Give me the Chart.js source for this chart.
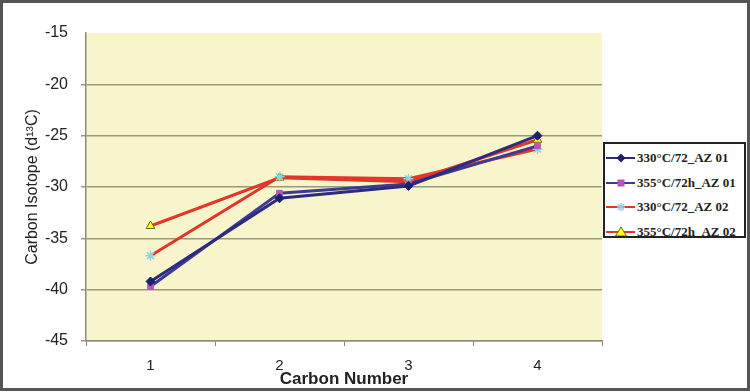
<!DOCTYPE html>
<html>
<head>
<meta charset="utf-8">
<script src="https://cdn.jsdelivr.net/npm/chart.js@4.4.0/dist/chart.umd.min.js"></script>
<style>
	html, body { margin: 0; padding: 0; background: #fff; }
	#wrap { position: relative; width: 750px; height: 392px; }
	#frame {
		position: absolute; left: 0; top: 0; width: 750px; height: 391px;
		box-sizing: border-box; border: 3px solid #555; pointer-events: none;
	}
	#legend {
		position: absolute; left: 603px; top: 142px; width: 143px; height: 96px;
		box-sizing: border-box; border: 2px solid #222; background: #fff;
		font-family: "Liberation Serif", "Times New Roman", serif;
		font-weight: bold; font-size: 13px; color: #222;
		padding-top: 2px; white-space: nowrap; overflow: hidden;
	}
	.row { display: flex; align-items: center; height: 24.5px; }
	.row svg { flex: none; margin-right: 1px; }
</style>
</head>
<body>
<div id="wrap">
	<canvas id="chart" width="750" height="392"></canvas>
	<div id="legend"></div>
	<div id="frame"></div>
</div>
<script>
const categories = ["1", "2", "3", "4"];
const az01At330 = [-39.2, -31.1, -29.9, -25.0];
const az01At355 = [-39.7, -30.6, -29.7, -26.0];
const az02At330 = [-36.7, -29.0, -29.2, -26.3];
const az02At355 = [-33.8, -29.1, -29.5, -25.4];
const yTicks = [-45, -40, -35, -30, -25, -20, -15];

const series = [
	{ label: "330°C/72_AZ 01", data: az01At330, line: "#2b2b82", style: "rectRot", fill: "#1f1f6e", edge: "#1f1f6e", radius: 4.5 },
	{ label: "355°C/72h_AZ 01", data: az01At355, line: "#3d3a92", style: "rect", fill: "#b458b4", edge: "#b458b4", radius: 4 },
	{ label: "330°C/72_AZ 02", data: az02At330, line: "#e2362a", style: "star", fill: "#8fd3dc", edge: "#8fd3dc", radius: 5 },
	{ label: "355°C/72h_AZ 02", data: az02At355, line: "#e2362a", style: "triangle", fill: "#ffff10", edge: "#6b6b10", radius: 5 }
];

const plotBackground = {
	id: "plotBackground",
	beforeDraw(chart) {
		const { ctx, chartArea } = chart;
		ctx.save();
		ctx.fillStyle = "#f8f5cd";
		ctx.fillRect(chartArea.left, chartArea.top, chartArea.right - chartArea.left, chartArea.bottom - chartArea.top);
		ctx.restore();
	}
};

const chart = new Chart(document.getElementById("chart"), {
	type: "line",
	data: {
		labels: categories,
		datasets: series.map((s) => ({
			label: s.label,
			data: s.data,
			borderColor: s.line,
			borderWidth: 3,
			pointStyle: s.style,
			pointRadius: s.radius,
			pointBackgroundColor: s.fill,
			pointBorderColor: s.edge,
			pointBorderWidth: s.style === "star" ? 1.5 : 1,
			tension: 0,
			fill: false
		}))
	},
	options: {
		responsive: false,
		animation: false,
		layout: { padding: { left: 0, right: 148, top: 33, bottom: 0 } },
		plugins: {
			legend: { display: false },
			tooltip: { enabled: false }
		},
		scales: {
			x: {
				offset: true,
				grid: { offset: true, drawOnChartArea: false, drawTicks: true, tickLength: 5, color: "#8a8a80" },
				border: { display: true, color: "#8a8a80", width: 1.5 },
				ticks: { padding: 11, color: "#222", font: { family: "Liberation Sans, Arial", size: 15 } },
				title: {
					display: true, text: "Carbon Number", color: "#222",
					font: { family: "Liberation Sans, Arial", size: 17, weight: "bold" },
					padding: { top: -3, bottom: 2 }
				},
				afterFit(scale) { scale.height = 51; }
			},
			y: {
				min: -45,
				max: -15,
				afterBuildTicks(scale) { scale.ticks = yTicks.map((v) => ({ value: v })); },
				grid: {
					drawTicks: true, tickLength: 5, lineWidth: 1.5,
					color: (c) => (c.tick && c.tick.value === -15 ? "rgba(0,0,0,0)" : "#9a977a")
				},
				border: { display: true, color: "#8a8a80", width: 1.5 },
				ticks: { padding: 13, color: "#222", font: { family: "Liberation Sans, Arial", size: 16 } },
				title: {
					display: true, text: "Carbon Isotope (d¹³C)", color: "#222",
					font: { family: "Liberation Sans, Arial", size: 16 },
					padding: 23
				},
				afterFit(scale) { scale.width = 86; }
			}
		}
	},
	plugins: [plotBackground]
});

// legend built from the same series list
const markerSvg = (s) => {
	const cx = 16, cy = 7;
	let mark = "";
	if (s.style === "rectRot") {
		mark = `<polygon points="${cx},${cy - 4.5} ${cx + 4.5},${cy} ${cx},${cy + 4.5} ${cx - 4.5},${cy}" fill="${s.fill}"/>`;
	} else if (s.style === "rect") {
		mark = `<rect x="${cx - 3.5}" y="${cy - 3.5}" width="7" height="7" fill="${s.fill}"/>`;
	} else if (s.style === "star") {
		mark = `<g stroke="${s.fill}" stroke-width="1.5"><line x1="${cx - 4}" y1="${cy}" x2="${cx + 4}" y2="${cy}"/><line x1="${cx}" y1="${cy - 4}" x2="${cx}" y2="${cy + 4}"/><line x1="${cx - 3}" y1="${cy - 3}" x2="${cx + 3}" y2="${cy + 3}"/><line x1="${cx - 3}" y1="${cy + 3}" x2="${cx + 3}" y2="${cy - 3}"/></g>`;
	} else {
		mark = `<polygon points="${cx},${cy - 5} ${cx + 5.5},${cy + 4} ${cx - 5.5},${cy + 4}" fill="${s.fill}" stroke="${s.edge}" stroke-width="1"/>`;
	}
	return `<svg width="31" height="14"><line x1="1" y1="7" x2="30" y2="7" stroke="${s.line}" stroke-width="2"/>${mark}</svg>`;
};

document.getElementById("legend").innerHTML = series
	.map((s) => `<div class="row">${markerSvg(s)}<span>${s.label}</span></div>`)
	.join("");
</script>
</body>
</html>
